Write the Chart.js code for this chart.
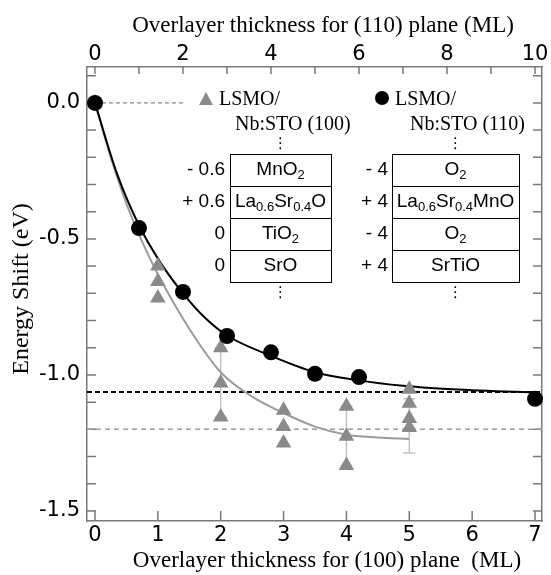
<!DOCTYPE html>
<html>
<head>
<meta charset="utf-8">
<script src="https://cdn.jsdelivr.net/npm/chart.js@4"></script>
<style>
  html, body { margin: 0; padding: 0; background: #fff; }
  #wrap { width: 551px; height: 575px; }
</style>
</head>
<body>
<div id="wrap"><canvas id="chart" width="551" height="575"></canvas></div>
<script>
/* Energy shift vs overlayer thickness — LSMO on Nb:STO (100) / (110) */

// ── Data ──────────────────────────────────────────────────────────────────────
// (100) plane, bottom axis, gray triangles
const tri100X = [0, 1, 1, 1, 2, 2, 2, 3, 3, 3, 4, 4, 4, 5, 5, 5, 5];
const tri100Y = [0, -0.60, -0.657, -0.717, -0.90, -1.03, -1.155, -1.13, -1.19, -1.25,
                 -1.115, -1.225, -1.333, -1.053, -1.104, -1.16, -1.193];
// (110) plane, top axis, black circles
const circ110X = [0, 1, 2, 3, 4, 5, 6, 10];
const circ110Y = [0, -0.46, -0.695, -0.857, -0.917, -0.996, -1.008, -1.088];

// fitted curves
const fit100X = [0, 0.25, 0.5, 0.75, 1, 1.5, 2, 2.5, 3, 3.5, 4, 4.5, 5];
const fit100Y = [0, -0.20, -0.37, -0.51, -0.63, -0.83, -0.99, -1.08, -1.14, -1.19, -1.22, -1.23, -1.236];
const fit110X = [0, 0.5, 1, 1.5, 2, 2.5, 3, 4, 5, 6, 7, 8, 10];
const fit110Y = [0, -0.26, -0.45, -0.59, -0.70, -0.79, -0.855, -0.93, -0.99, -1.02, -1.04, -1.052, -1.065];

// error bars on the (100) data
const errX    = [2, 4, 5];
const errHigh = [-0.90, -1.115, -1.088];
const errLow  = [-1.155, -1.333, -1.287];

// saturation levels and the zero guide
const level110 = -1.063;
const level100 = -1.2;
const zeroGuideX = [0, 1.4];

// ticks
const x100Ticks  = [0, 1, 2, 3, 4, 5, 6, 7];
const x110Ticks  = [0, 1, 2, 3, 4, 5, 6, 7, 8, 9, 10];
const x110Labels = ['0', '', '2', '', '4', '', '6', '', '8', '', '10'];
const yTicks  = [0.1, 0, -0.1, -0.2, -0.3, -0.4, -0.5, -0.6, -0.7, -0.8, -0.9, -1.0, -1.1, -1.2, -1.3, -1.4, -1.5];
const yLabels = ['', '0.0', '', '', '', '', '-0.5', '', '', '', '', '-1.0', '', '', '', '', '-1.5'];

// layer stacks in the inset
const stack100Charge = ['- 0.6', '+ 0.6', '0', '0'];
const stack100Layer  = ['MnO_2', 'La_{0.6}Sr_{0.4}O', 'TiO_2', 'SrO'];
const stack110Charge = ['- 4', '+ 4', '- 4', '+ 4'];
const stack110Layer  = ['O_2', 'La_{0.6}Sr_{0.4}MnO', 'O_2', 'SrTiO'];

// ── Look ──────────────────────────────────────────────────────────────────────
const FRAME = '#7a7a7a';
const GRAY_MARK = '#8a8a8a';
const GRAY_LINE = '#9c9c9c';
const ERR_COLOR = '#c4c4c4';
const TICK_FONT = { family: "'DejaVu Sans', sans-serif", size: 21 };
const SERIF = "'Liberation Serif', 'Times New Roman', serif";
const CELL_FONT = "19px 'Liberation Sans', Arial, sans-serif";
const SUB_FONT  = "13px 'Liberation Sans', Arial, sans-serif";

const X100_MIN = -0.127, X100_MAX = 7.111;
const X110_MIN = X100_MIN * 10 / 7, X110_MAX = X100_MAX * 10 / 7;
const Y_MIN = -1.537, Y_MAX = 0.132;

const pts = (xs, ys) => xs.map((x, i) => ({ x, y: ys[i] }));

// ── Helpers ───────────────────────────────────────────────────────────────────
function parseRich(s) {
  const parts = [];
  const re = /_\{([^}]*)\}|_(.)/g;
  let last = 0, m;
  while ((m = re.exec(s))) {
    if (m.index > last) parts.push([s.slice(last, m.index), false]);
    parts.push([m[1] || m[2], true]);
    last = re.lastIndex;
  }
  if (last < s.length) parts.push([s.slice(last), false]);
  return parts;
}

function drawRich(ctx, s, cx, cy) {
  const parts = parseRich(s);
  const widths = parts.map(([t, sub]) => { ctx.font = sub ? SUB_FONT : CELL_FONT; return ctx.measureText(t).width; });
  let x = cx - widths.reduce((a, b) => a + b, 0) / 2;
  ctx.textAlign = 'left';
  parts.forEach(([t, sub], i) => {
    ctx.font = sub ? SUB_FONT : CELL_FONT;
    ctx.fillText(t, x, sub ? cy + 5 : cy);
    x += widths[i];
  });
}

function drawStack(ctx, charges, layers, chargeRight, boxLeft, boxRight, rowTops) {
  ctx.strokeStyle = '#000'; ctx.lineWidth = 1;
  const cx = (boxLeft + boxRight) / 2;
  layers.forEach((layer, i) => {
    const top = rowTops[i], bot = rowTops[i + 1];
    ctx.strokeRect(boxLeft + 0.5, top + 0.5, boxRight - boxLeft, bot - top);
    const cy = (top + bot) / 2;
    drawRich(ctx, layer, cx, cy);
    ctx.font = CELL_FONT; ctx.textAlign = 'right';
    ctx.fillText(charges[i], chargeRight, cy);
  });
  ctx.font = "15px 'DejaVu Sans', sans-serif"; ctx.textAlign = 'center';
  ctx.fillText('⋮', cx, rowTops[0] - 10);
  ctx.fillText('⋮', cx, rowTops[rowTops.length - 1] + 11);
}

// ── Plugin: inward ticks, error bars, legend, inset, titles ──────────────────
const figureExtras = {
  id: 'figureExtras',
  beforeDatasetsDraw(chart) {
    const { ctx, chartArea: a, scales } = chart;
    ctx.save();
    ctx.strokeStyle = FRAME; ctx.lineWidth = 1.5;
    ctx.beginPath();
    scales.x.ticks.forEach(t => {
      const p = scales.x.getPixelForValue(t.value);
      ctx.moveTo(p, a.bottom); ctx.lineTo(p, a.bottom - 10);
    });
    scales.x2.ticks.forEach(t => {
      const p = scales.x2.getPixelForValue(t.value);
      ctx.moveTo(p, a.top); ctx.lineTo(p, a.top + 7);
    });
    scales.y.ticks.forEach(t => {
      const p = scales.y.getPixelForValue(t.value);
      ctx.moveTo(a.left, p); ctx.lineTo(a.left + 9, p);
      ctx.moveTo(a.right, p); ctx.lineTo(a.right - 9, p);
    });
    ctx.stroke();

    // error bars
    ctx.strokeStyle = ERR_COLOR; ctx.lineWidth = 1.5;
    ctx.beginPath();
    errX.forEach((x, i) => {
      const px = scales.x.getPixelForValue(x);
      const hi = scales.y.getPixelForValue(errHigh[i]);
      const lo = scales.y.getPixelForValue(errLow[i]);
      ctx.moveTo(px, hi); ctx.lineTo(px, lo);
      ctx.moveTo(px - 6, hi); ctx.lineTo(px + 6, hi);
      ctx.moveTo(px - 6, lo); ctx.lineTo(px + 6, lo);
    });
    ctx.stroke();
    ctx.restore();
  },
  afterDraw(chart) {
    const { ctx } = chart;
    ctx.save();
    ctx.fillStyle = '#000';
    ctx.textBaseline = 'middle';

    // axis titles
    ctx.font = `23px ${SERIF}`; ctx.textAlign = 'center';
    ctx.fillText('Overlayer thickness for (110) plane (ML)', 323, 26);
    ctx.fillText('Overlayer thickness for (100) plane  (ML)', 327, 561);
    ctx.save();
    ctx.font = `24px ${SERIF}`;
    ctx.translate(22, 289); ctx.rotate(-Math.PI / 2);
    ctx.fillText('Energy Shift (eV)', 0, 0);
    ctx.restore();

    // legend
    ctx.fillStyle = GRAY_MARK;
    ctx.beginPath();
    ctx.moveTo(206, 92); ctx.lineTo(213, 105); ctx.lineTo(199, 105); ctx.closePath();
    ctx.fill();
    ctx.fillStyle = '#000';
    ctx.beginPath(); ctx.arc(382, 98, 7, 0, Math.PI * 2); ctx.fill();
    ctx.font = `20px ${SERIF}`; ctx.textAlign = 'left';
    ctx.fillText('LSMO/', 219, 100);
    ctx.fillText('Nb:STO (100)', 235, 125);
    ctx.fillText('LSMO/', 395, 100);
    ctx.fillText('Nb:STO (110)', 410, 125);

    // layer stacks
    const rowTops = [154, 186, 218, 250, 282];
    drawStack(ctx, stack100Charge, stack100Layer, 225, 230, 331, rowTops);
    drawStack(ctx, stack110Charge, stack110Layer, 388, 392, 519, rowTops);
    ctx.restore();
  }
};

// ── Chart ─────────────────────────────────────────────────────────────────────
const noGrid = { drawOnChartArea: false, drawTicks: false };
const frameBorder = { display: true, color: FRAME, width: 1.5 };

new Chart(document.getElementById('chart'), {
  type: 'scatter',
  data: {
    datasets: [
      {
        label: 'LSMO/Nb:STO (110)', xAxisID: 'x2', yAxisID: 'y',
        data: pts(circ110X, circ110Y),
        pointStyle: 'circle', pointRadius: 8, backgroundColor: '#000', borderColor: '#000', borderWidth: 0,
        clip: false
      },
      {
        label: 'LSMO/Nb:STO (100)', xAxisID: 'x', yAxisID: 'y',
        data: pts(tri100X, tri100Y),
        pointStyle: 'triangle', pointRadius: 9, backgroundColor: GRAY_MARK, borderColor: GRAY_MARK, borderWidth: 0,
        clip: false
      },
      {
        label: 'fit (110)', xAxisID: 'x2', yAxisID: 'y',
        data: pts(fit110X, fit110Y), showLine: true, pointRadius: 0,
        borderColor: '#000', borderWidth: 2, cubicInterpolationMode: 'monotone'
      },
      {
        label: 'fit (100)', xAxisID: 'x', yAxisID: 'y',
        data: pts(fit100X, fit100Y), showLine: true, pointRadius: 0,
        borderColor: GRAY_LINE, borderWidth: 2, cubicInterpolationMode: 'monotone'
      },
      {
        label: 'level (110)', xAxisID: 'x', yAxisID: 'y',
        data: [{ x: X100_MIN, y: level110 }, { x: X100_MAX, y: level110 }],
        showLine: true, pointRadius: 0, borderColor: '#000', borderWidth: 2, borderDash: [5, 3]
      },
      {
        label: 'level (100)', xAxisID: 'x', yAxisID: 'y',
        data: [{ x: X100_MIN, y: level100 }, { x: X100_MAX, y: level100 }],
        showLine: true, pointRadius: 0, borderColor: GRAY_LINE, borderWidth: 1.5, borderDash: [5, 4]
      },
      {
        label: 'zero', xAxisID: 'x', yAxisID: 'y',
        data: zeroGuideX.map(x => ({ x, y: 0 })),
        showLine: true, pointRadius: 0, borderColor: '#666', borderWidth: 1, borderDash: [4, 3]
      }
    ]
  },
  options: {
    responsive: false, animation: false, devicePixelRatio: 1,
    layout: { padding: 0 },
    plugins: { legend: { display: false }, tooltip: { enabled: false } },
    scales: {
      x: {
        type: 'linear', position: 'bottom', min: X100_MIN, max: X100_MAX,
        afterBuildTicks: s => { s.ticks = x100Ticks.map(v => ({ value: v })); },
        afterFit: s => { s.height = 54; },
        grid: noGrid, border: frameBorder,
        ticks: { font: TICK_FONT, color: '#000', padding: 2, autoSkip: false, maxRotation: 0,
                 callback: (v, i) => String(x100Ticks[i]) }
      },
      x2: {
        type: 'linear', position: 'top', min: X110_MIN, max: X110_MAX,
        afterBuildTicks: s => { s.ticks = x110Ticks.map(v => ({ value: v })); },
        afterFit: s => { s.height = 67; },
        grid: noGrid, border: frameBorder,
        ticks: { font: TICK_FONT, color: '#000', padding: 0, autoSkip: false, maxRotation: 0,
                 callback: (v, i) => x110Labels[i] }
      },
      y: {
        type: 'linear', position: 'left', min: Y_MIN, max: Y_MAX,
        afterBuildTicks: s => { s.ticks = yTicks.map(v => ({ value: v })); },
        afterFit: s => { s.width = 87; },
        grid: noGrid, border: frameBorder,
        ticks: { font: TICK_FONT, color: '#000', padding: 7, autoSkip: false,
                 callback: (v, i) => yLabels[i] }
      },
      y2: {
        type: 'linear', position: 'right', min: Y_MIN, max: Y_MAX,
        afterBuildTicks: s => { s.ticks = yTicks.map(v => ({ value: v })); },
        afterFit: s => { s.width = 8; },
        grid: noGrid, border: frameBorder,
        ticks: { display: false }
      }
    }
  },
  plugins: [figureExtras]
});
</script>
</body>
</html>
